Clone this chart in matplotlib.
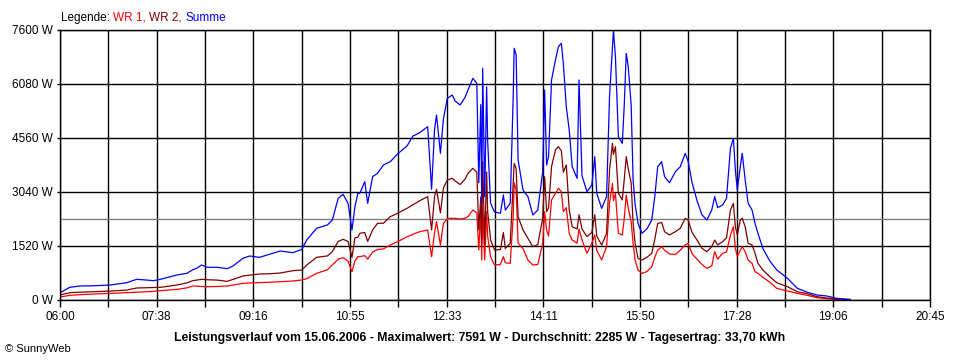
import matplotlib
matplotlib.use("Agg")
import matplotlib.pyplot as plt
from matplotlib.ticker import FixedLocator

plt.rcParams['font.family'] = ['Liberation Sans', 'DejaVu Sans']

# time of day in minutes after midnight
minutes = [360, 370, 380, 394, 411, 428, 438, 449, 455, 462, 479, 489, 495, 499, 504, 510,
           520, 530, 536, 546, 553, 563, 574, 584, 597, 606, 611, 621, 632, 637, 643, 648,
           653, 657, 660, 663, 665, 670, 673, 678, 683, 689, 696, 704, 713, 719, 726, 734,
           738, 741, 743, 747, 750, 754, 759, 762, 767, 772, 775, 780, 784, 786, 788, 789,
           790, 792, 794, 795, 798, 802, 808, 811, 813, 818, 821, 822, 824, 826, 831, 836,
           841, 846, 851, 853, 855, 857, 860, 864, 867, 870, 872, 875, 878, 881, 886, 888,
           891, 896, 901, 904, 906, 911, 916, 919, 922, 923, 925, 928, 932, 934, 936, 938,
           941, 943, 945, 948, 952, 957, 962, 965, 968, 972, 975, 980, 986, 991, 996, 999,
           1003, 1008, 1013, 1018, 1023, 1026, 1029, 1034, 1038, 1042, 1045, 1047, 1049, 1052, 1054, 1057,
           1060, 1064, 1067, 1070, 1075, 1082, 1089, 1100, 1110, 1120, 1130, 1140, 1150, 1164]

# Summe (W)
summe = [205, 357, 394, 400, 422, 487, 582, 560, 543, 582, 704, 751, 850, 892, 985, 920,
         920, 882, 957, 1173, 1239, 1201, 1295, 1379, 1332, 1426, 1689, 2018, 2111, 2252, 2862, 2975,
         2721, 1970, 2626, 3003, 3003, 3331, 2721, 3472, 3566, 3800, 3894, 4128, 4335, 4616, 4710, 4879,
         3115, 4800, 5207, 4128, 5100, 5677, 5770, 5600, 5489, 5700, 5911, 6240, 6099, 3300, 5500, 2721,
         6522, 2909, 6000, 4500, 2721, 2480, 2440, 2956, 2530, 2721, 5723, 7085, 6900, 3941, 3096, 2909,
         2393, 2533, 3600, 5911, 3800, 4034, 6193, 6755, 7131, 7225, 6662, 5442, 4785, 3753, 3425, 6193,
         3500, 3050, 3231, 4034, 3000, 2581, 2909, 5723, 7131, 7591, 6849, 4597, 4410, 5500, 6943, 6580,
         5500, 3378, 2700, 2158, 1877, 2000, 2252, 2900, 3753, 3894, 3472, 3300, 3611, 3753, 4128, 3900,
         3300, 2800, 2400, 2252, 2533, 2909, 2600, 2674, 2860, 4269, 4550, 3660, 3096, 3753, 4128, 3378,
         2721, 2533, 2158, 1877, 1450, 1100, 850, 610, 330, 220, 141, 113, 47, 19]

# WR 2 (W)
wr2 = [141, 206, 220, 234, 250, 281, 338, 345, 350, 356, 422, 480, 544, 560, 582, 570,
       560, 525, 580, 675, 700, 732, 740, 760, 825, 844, 985, 1201, 1240, 1360, 1650, 1708,
       1650, 1200, 1750, 1764, 1877, 1900, 1650, 1970, 2158, 2160, 2346, 2450, 2580, 2680, 2796, 2909,
       1970, 2909, 3115, 2450, 3150, 3378, 3425, 3350, 3250, 3400, 3566, 3706, 3600, 1970, 2900, 1595,
       3894, 1595, 3600, 2500, 1689, 1407, 1420, 1900, 1450, 1600, 3300, 3847, 3700, 2346, 1970, 1736,
       1501, 1560, 2300, 3472, 2486, 2600, 3753, 4222, 4316, 4200, 3600, 3800, 2533, 2064, 2000, 2400,
       2000, 1783, 1900, 2400, 1800, 1548, 1877, 3660, 4410, 4100, 4316, 3003, 2815, 3400, 4034, 3700,
       3300, 2158, 1600, 1173, 1126, 1200, 1314, 1700, 2158, 2180, 1923, 1830, 1923, 2020, 2299, 2250,
       1900, 1689, 1455, 1360, 1500, 1689, 1550, 1642, 1750, 2533, 2721, 2064, 1830, 2252, 2300, 2064,
       1595, 1550, 1314, 1032, 844, 657, 488, 375, 234, 178, 94, 56, 30, 0]

# WR 1 (W)
wr1 = [84, 131, 150, 169, 185, 206, 220, 234, 245, 263, 300, 340, 394, 390, 380, 375,
       380, 394, 420, 469, 480, 488, 500, 516, 535, 563, 600, 750, 850, 985, 1150, 1190,
       1100, 797, 1100, 1220, 1220, 1250, 1150, 1350, 1420, 1440, 1548, 1650, 1780, 1850, 1923, 1970,
       1220, 1900, 2205, 1548, 2150, 2299, 2299, 2299, 2280, 2300, 2346, 2533, 2450, 1407, 2500, 1126,
       2600, 1126, 2486, 1800, 1220, 985, 1000, 1220, 1050, 1032, 2346, 3300, 3100, 1600, 1450, 1126,
       985, 1000, 1600, 2486, 1970, 1800, 2815, 3003, 3143, 3050, 2486, 2600, 1877, 1689, 1600, 2000,
       1689, 1314, 1600, 1830, 1400, 1126, 1501, 2721, 3284, 2800, 3000, 1877, 1830, 2300, 2956, 2600,
       2200, 1600, 1126, 844, 751, 800, 938, 1200, 1407, 1501, 1400, 1295, 1280, 1400, 1550, 1595,
       1300, 1150, 1000, 891, 960, 1360, 1150, 1314, 1350, 1830, 2064, 1455, 1220, 1400, 1501, 1360,
       1126, 1032, 797, 750, 640, 500, 329, 253, 188, 131, 66, 38, 20, 0]

average = 2285
y_ticks = [0, 1520, 3040, 4560, 6080, 7600]
x_start, x_end = 360, 1245
x_labels = ["06:00", "07:38", "09:16", "10:55", "12:33", "14:11", "15:50", "17:28", "19:06", "20:45"]

fig = plt.figure(figsize=(9.6, 3.6), dpi=100)
ax = fig.add_axes([60 / 960, 1 - 300 / 360, 870 / 960, 270 / 360])

ax.plot(minutes, wr1, color='#ff0000', lw=0.9, zorder=3)
ax.plot(minutes, wr2, color='#800000', lw=0.9, zorder=3)
ax.plot(minutes, summe, color='#0000ff', lw=0.9, zorder=3)
ax.axhline(average, color='#808080', lw=1.0, zorder=2)

ax.set_xlim(x_start, x_end)
ax.set_ylim(0, 7600)

step = (x_end - x_start) / 9
ax.xaxis.set_major_locator(FixedLocator([x_start + i * step for i in range(10)]))
ax.xaxis.set_minor_locator(FixedLocator([x_start + (i + 0.5) * step for i in range(9)]))
ax.set_xticklabels(x_labels)
ax.set_yticks(y_ticks)
ax.set_yticklabels([f"{v} W" for v in y_ticks])

ax.grid(True, which='both', axis='x', color='black', lw=1.0, zorder=1)
ax.grid(True, which='major', axis='y', color='black', lw=1.0, zorder=1)
ax.tick_params(axis='x', which='both', length=5, width=1, pad=3, labelsize=8.5)
ax.tick_params(axis='y', length=2, width=1, pad=3, labelsize=8.5)
for s in ax.spines.values():
    s.set_linewidth(1.0)
    s.set_zorder(4)

# coloured legend line
t = fig.text(61 / 960, 1 - 21 / 360, "Legende: ", fontsize=8.5, color='black', va='baseline')
for txt, col in [("WR 1, ", '#ff0000'), ("WR 2, ", '#800000'), ("Summe", '#0000ff')]:
    t = ax.annotate(txt, xycoords=t, xy=(1, 0), va='bottom', fontsize=8.5, color=col,
                    annotation_clip=False)

fig.text(480 / 960, 1 - 341 / 360,
         "Leistungsverlauf vom 15.06.2006 - Maximalwert: 7591 W - Durchschnitt: 2285 W - Tagesertrag: 33,70 kWh",
         ha='center', va='baseline', fontsize=8.8, fontweight='bold')
fig.text(5 / 960, 1 - 352 / 360, "\u00a9 SunnyWeb", fontsize=8, va='baseline')

fig.savefig("out.png", dpi=100)
